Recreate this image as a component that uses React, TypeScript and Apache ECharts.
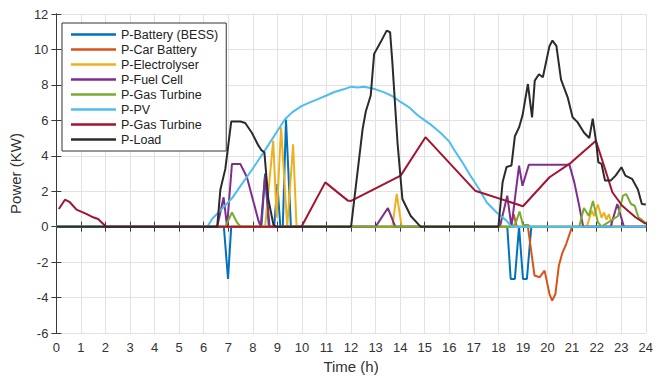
import React, { useEffect, useRef } from "react";
import * as echarts from "echarts";

// Time (h), Power (kW) pairs
const batteryBESS: number[][] = [
  [0, 0], [6.82, 0], [6.99, -2.95], [7.12, 0], [8.35, 0], [8.5, 3.0], [8.65, 0],
  [8.87, 0], [9.0, 2.4], [9.12, 0], [9.22, 0], [9.35, 6.05], [9.55, 0],
  [18.36, 0], [18.5, -2.95], [18.67, -2.95], [18.84, 0], [19.0, -2.95], [19.16, -2.95], [19.34, 0], [24, 0],
];
const carBattery: number[][] = [
  [0, 0], [18.5, 0], [18.62, 0.7], [18.75, 0], [19.2, 0], [19.47, -2.76], [19.68, -2.85], [19.88, -2.48],
  [20.08, -3.8], [20.19, -4.17], [20.32, -3.8], [20.46, -2.2], [20.59, -1.54], [20.76, -0.98], [21.0, 0], [24, 0],
];
const electrolyser: number[][] = [
  [0, 0], [8.5, 0], [8.83, 4.85], [8.97, 0.5], [9.15, 5.6], [9.4, 0], [9.64, 4.65], [9.78, 0],
  [13.68, 0], [13.86, 1.85], [14.06, 0],
  [21.6, 0], [21.8, 0.9], [21.9, 0.6], [22.05, 1.25], [22.2, 0.5], [22.3, 0.8], [22.4, 0.4], [22.5, 0.7], [22.65, 0], [24, 0],
];
const fuelCell: number[][] = [
  [0, 0], [6.55, 0], [6.81, 1.66], [6.95, 0], [7.15, 3.54], [7.49, 3.54], [7.76, 2.79], [7.96, 1.75],
  [8.23, 0.34], [8.32, 0], [8.5, 2.9], [8.68, 0], [13.0, 0], [13.5, 1.05], [13.8, 0],
  [18.06, 0], [18.36, 1.75], [18.53, 0], [18.84, 3.44], [18.98, 2.31], [19.24, 3.5], [20.89, 3.5],
  [21.09, 2.5], [21.29, 1.18], [21.45, 0], [22.57, 0], [22.84, 1.28], [23.11, 0], [24, 0],
];
const gasTurbineA: number[][] = [
  [0, 0], [6.88, 0], [7.15, 0.8], [7.35, 0.25], [7.5, 0], [18.6, 0], [18.7, 0.2], [18.86, 0.85],
  [19.0, 0.1], [19.2, 0.1], [19.3, 0], [21.29, 0], [21.48, 1.05], [21.68, 0.6], [21.85, 1.45],
  [22.05, 0.25], [22.2, 0], [22.87, 0.6], [23.07, 1.75], [23.2, 1.84], [23.4, 1.28], [23.55, 1.18],
  [23.7, 0.53], [24, 0.2],
];
const pv: number[][] = [
  [0, 0], [6.15, 0], [6.34, 0.43], [6.7, 0.95], [7.15, 1.6], [7.5, 2.3], [7.96, 3.2], [8.3, 3.9],
  [8.63, 4.6], [9.0, 5.4], [9.3, 6.05], [9.6, 6.45], [9.98, 6.8], [10.3, 7.0], [10.65, 7.2], [11.0, 7.4],
  [11.32, 7.6], [11.7, 7.75], [12.0, 7.9], [12.25, 7.85], [12.54, 7.9], [13.0, 7.75], [13.35, 7.58],
  [13.7, 7.35], [14.0, 7.05], [14.35, 6.75], [14.7, 6.3], [15.0, 6.0], [15.3, 5.7], [15.64, 5.3],
  [16.0, 4.8], [16.17, 4.4], [16.5, 3.7], [16.85, 2.9], [17.2, 2.15], [17.52, 1.38], [17.93, 0.8],
  [18.33, 0.34], [18.53, 0], [24, 0],
];
const gasTurbineB: number[][] = [
  [0.1, 1.0], [0.35, 1.52], [0.55, 1.38], [0.82, 0.96], [1.22, 0.72], [1.5, 0.53], [1.7, 0.43],
  [2.03, 0], [9.98, 0], [10.95, 2.5], [11.87, 1.47], [12.0, 1.45], [14.02, 2.88], [15.03, 5.05],
  [17.05, 2.03], [19.0, 1.15], [20.08, 2.79], [20.89, 3.54], [21.97, 4.85], [22.3, 3.44],
  [22.64, 1.94], [23.04, 1.18], [23.58, 0.53], [24, 0.15],
];
const load: number[][] = [
  [0, 0], [6.55, 0], [6.68, 2.1], [6.88, 3.26], [7.12, 5.93], [7.5, 5.93], [7.69, 5.85], [7.96, 5.3],
  [8.23, 4.57], [8.36, 4.3], [8.47, 4.2], [8.63, 1.56], [8.84, 0.1], [8.95, 0], [12.0, 0], [12.47, 5.5],
  [12.6, 6.5], [12.8, 7.4], [12.94, 9.75], [13.2, 10.4], [13.45, 11.06], [13.59, 10.97], [13.68, 9.3],
  [13.89, 4.76], [14.09, 1.56], [14.43, 0.6], [14.83, 0], [18.0, 0], [18.17, 2.5], [18.33, 3.37],
  [18.53, 3.45], [18.67, 5.1], [18.84, 5.6], [18.98, 6.27], [19.2, 8.05], [19.37, 6.17], [19.48, 8.24],
  [19.65, 8.6], [19.81, 8.43], [20.08, 10.2], [20.2, 10.5], [20.36, 10.2], [20.55, 8.3], [20.82, 7.3],
  [21.02, 6.17], [21.22, 5.9], [21.49, 5.3], [21.7, 5.0], [21.84, 6.1], [21.98, 4.76], [22.07, 3.63],
  [22.2, 3.54], [22.34, 2.6], [22.57, 2.6], [22.77, 2.88], [23.01, 3.35], [23.17, 2.88], [23.44, 2.7],
  [23.68, 2.1], [23.84, 1.28], [24, 1.25],
];

const seriesNames = [
  "P-Battery (BESS)", "P-Car Battery", "P-Electrolyser", "P-Fuel Cell",
  "P-Gas Turbine", "P-PV", "P-Gas Turbine ", "P-Load",
];
const seriesData = [batteryBESS, carBattery, electrolyser, fuelCell, gasTurbineA, pv, gasTurbineB, load];
const seriesColors = ["#0072BD", "#D95319", "#EDB120", "#7E2F8E", "#77AC30", "#4DBEEE", "#A2142F", "#2b2b2b"];

const xMin = 0, xMax = 24, xStep = 1;
const yMin = -6, yMax = 12, yStep = 2;

const FONT = "'Liberation Sans', Arial, Helvetica, sans-serif";
const AX = "#3a3a3a";

export default function App() {
  const ref = useRef<HTMLDivElement>(null);
  useEffect(() => {
    const chart = echarts.init(ref.current!, null, { renderer: "svg" });
    const axisCommon = {
      type: "value" as const,
      axisLine: { show: true, lineStyle: { color: AX, width: 1 } },
      axisTick: { show: true, inside: true, length: 5, lineStyle: { color: AX } },
    };
    chart.setOption({
      animation: false,
      backgroundColor: "#fff",
      textStyle: { fontFamily: FONT },
      grid: { left: 53, right: 9, top: 14, bottom: 46, containLabel: false },
      legend: {
        orient: "vertical",
        left: 62,
        top: 23,
        padding: [5, 8, 5, 9],
        icon: "rect",
        itemWidth: 45,
        itemHeight: 2.5,
        itemGap: 2,
        backgroundColor: "#fff",
        borderColor: "#333",
        borderWidth: 1,
        selectedMode: false,
        textStyle: { fontSize: 12.5, color: "#222", fontFamily: FONT },
        data: seriesNames,
      },
      xAxis: [
        {
          ...axisCommon,
          min: xMin, max: xMax, interval: xStep, position: "bottom",
          axisLabel: { color: "#333", fontSize: 13, margin: 8, fontFamily: FONT },
          splitLine: { show: true, lineStyle: { color: "#e2e2e2", width: 1 } },
          name: "Time (h)", nameLocation: "middle", nameGap: 26,
          nameTextStyle: { fontSize: 15, color: "#333", fontFamily: FONT },
        },
        {
          ...axisCommon,
          min: xMin, max: xMax, interval: xStep, position: "top",
          axisLabel: { show: false }, splitLine: { show: false },
        },
      ],
      yAxis: [
        {
          ...axisCommon,
          min: yMin, max: yMax, interval: yStep, position: "left",
          axisLabel: { color: "#333", fontSize: 13, margin: 8, fontFamily: FONT },
          splitLine: { show: true, lineStyle: { color: "#e2e2e2", width: 1 } },
          name: "Power (KW)", nameLocation: "middle", nameGap: 28,
          nameTextStyle: { fontSize: 15, color: "#333", fontFamily: FONT },
        },
        {
          ...axisCommon,
          min: yMin, max: yMax, interval: yStep, position: "right",
          axisLabel: { show: false }, splitLine: { show: false },
        },
      ],
      series: seriesNames.map((name, i) => ({
        name,
        type: "line",
        xAxisIndex: 0,
        yAxisIndex: 0,
        data: seriesData[i],
        symbol: "none",
        showSymbol: false,
        color: seriesColors[i],
        itemStyle: { color: seriesColors[i] },
        lineStyle: { color: seriesColors[i], width: 2 },
      })),
    });
    return () => chart.dispose();
  }, []);
  return (
    <div
      ref={ref}
      style={{ position: "fixed", left: 0, top: 0, width: 656, height: 379 }}
    />
  );
}
